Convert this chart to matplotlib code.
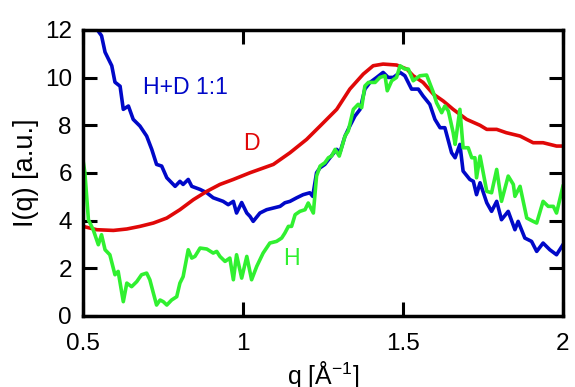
import matplotlib
matplotlib.use("Agg")
import matplotlib.pyplot as plt

plt.rcParams["font.family"] = ["Liberation Sans", "DejaVu Sans"]
plt.rcParams["mathtext.default"] = "regular"

# H+D 1:1 mixture
q_hd = [0.50, 0.52, 0.543, 0.558, 0.569, 0.590, 0.600, 0.616, 0.626, 0.642,
        0.657, 0.678, 0.699, 0.715, 0.730, 0.746, 0.762, 0.788, 0.803, 0.813,
        0.829, 0.840, 0.866, 0.887, 0.907, 0.938, 0.954, 0.970, 0.980, 0.996,
        1.012, 1.022, 1.032, 1.053, 1.074, 1.095, 1.116, 1.131, 1.147, 1.168,
        1.188, 1.209, 1.218, 1.230, 1.241, 1.256, 1.272, 1.293, 1.303, 1.319,
        1.334, 1.350, 1.366, 1.381, 1.397, 1.418, 1.438, 1.454, 1.470, 1.491,
        1.506, 1.527, 1.548, 1.563, 1.584, 1.600, 1.616, 1.631, 1.652, 1.663,
        1.678, 1.688, 1.709, 1.720, 1.730, 1.741, 1.762, 1.777, 1.793, 1.808,
        1.829, 1.850, 1.860, 1.881, 1.902, 1.918, 1.938, 1.959, 1.980, 2.0]
I_hd = [14.0, 13.0, 12.04, 11.76, 11.07, 10.5, 9.81, 9.64, 8.67, 8.81,
        8.25, 7.97, 7.55, 6.99, 6.36, 6.29, 5.80, 5.44, 5.65, 5.52,
        5.73, 5.44, 5.31, 5.17, 4.96, 4.81, 4.67, 4.81, 4.32, 4.76,
        4.32, 4.18, 3.97, 4.32, 4.46, 4.53, 4.60, 4.75, 4.81, 4.96,
        5.09, 5.17, 5.02, 6.01, 6.22, 6.36, 6.64, 6.99, 6.85, 7.55,
        7.97, 8.39, 8.67, 9.52, 9.80, 10.01, 10.22, 10.01, 10.01, 10.22,
        10.08, 9.52, 9.52, 9.23, 8.88, 8.25, 7.90, 7.90, 6.85, 6.64,
        7.20, 6.08, 5.73, 5.65, 5.09, 5.59, 4.75, 4.39, 4.81, 4.04,
        4.39, 3.62, 3.97, 3.27, 3.13, 2.71, 3.06, 2.78, 2.57, 2.99]

# D
q_d = [0.50, 0.543, 0.595, 0.637, 0.678, 0.720, 0.762, 0.803, 0.845, 0.887,
       0.928, 0.970, 1.022, 1.095, 1.147, 1.199, 1.241, 1.293, 1.334, 1.376,
       1.407, 1.438, 1.480, 1.512, 1.532, 1.563, 1.595, 1.626, 1.657, 1.699,
       1.741, 1.762, 1.793, 1.823, 1.866, 1.907, 1.938, 1.980, 2.0]
I_d = [3.76, 3.62, 3.59, 3.65, 3.76, 3.90, 4.11, 4.46, 4.88, 5.23,
       5.52, 5.73, 6.01, 6.36, 6.85, 7.41, 7.97, 8.67, 9.52, 10.15,
       10.50, 10.57, 10.53, 10.36, 10.08, 9.80, 9.31, 9.02, 8.67, 8.25,
       8.00, 7.83, 7.83, 7.69, 7.55, 7.27, 7.27, 7.13, 7.13]

# H
q_h = [0.50, 0.506, 0.517, 0.532, 0.548, 0.558, 0.569, 0.584, 0.600, 0.610,
       0.626, 0.637, 0.652, 0.668, 0.683, 0.699, 0.709, 0.720, 0.730, 0.741,
       0.751, 0.762, 0.777, 0.793, 0.803, 0.813, 0.829, 0.840, 0.850, 0.866,
       0.887, 0.907, 0.918, 0.928, 0.944, 0.959, 0.970, 0.980, 0.996, 1.012,
       1.027, 1.043, 1.063, 1.084, 1.105, 1.121, 1.131, 1.142, 1.152, 1.163,
       1.178, 1.194, 1.204, 1.220, 1.230, 1.241, 1.256, 1.267, 1.277, 1.288,
       1.301, 1.319, 1.329, 1.345, 1.360, 1.371, 1.381, 1.392, 1.413, 1.428,
       1.444, 1.451, 1.465, 1.480, 1.491, 1.506, 1.517, 1.532, 1.553, 1.574,
       1.595, 1.605, 1.621, 1.631, 1.642, 1.657, 1.663, 1.678, 1.688, 1.704,
       1.715, 1.725, 1.730, 1.741, 1.762, 1.777, 1.793, 1.808, 1.829, 1.845,
       1.850, 1.866, 1.887, 1.907, 1.918, 1.938, 1.954, 1.970, 1.980, 2.0]
I_h = [6.55, 6.01, 4.04, 3.62, 2.99, 3.41, 2.78, 2.57, 1.73, 1.87,
       0.60, 1.38, 1.23, 1.44, 1.73, 1.80, 1.52, 0.96, 0.46, 0.67,
       0.60, 0.46, 0.67, 0.81, 1.38, 1.65, 2.78, 2.43, 2.50, 2.85,
       2.81, 2.64, 2.71, 2.50, 2.29, 2.43, 1.52, 2.57, 1.59, 2.50,
       1.52, 2.08, 2.64, 3.06, 3.13, 3.27, 3.48, 3.76, 3.76, 4.25,
       4.39, 4.46, 4.74, 4.32, 5.87, 6.29, 6.43, 6.64, 6.71, 6.99,
       6.71, 7.55, 7.76, 8.67, 8.88, 8.74, 9.65, 9.80, 9.80, 10.01,
       10.08, 9.45, 9.87, 10.01, 10.50, 10.36, 10.36, 9.87, 10.08, 10.11,
       9.38, 8.95, 8.53, 8.81, 8.60, 7.69, 7.20, 8.67, 7.06, 7.06,
       6.64, 6.64, 5.80, 6.71, 5.23, 5.17, 6.15, 4.81, 5.87, 5.52,
       5.02, 5.44, 4.11, 3.97, 3.90, 4.81, 4.60, 4.60, 4.32, 5.44]

blue, red, green = "#0008c8", "#e00808", "#30f030"

fig = plt.figure(figsize=(5.75, 3.87), dpi=100)
ax = fig.add_axes([0.1443, 0.1835, 0.8347, 0.739])

ax.plot(q_hd, I_hd, color=blue, lw=2.6)
ax.plot(q_d, I_d, color=red, lw=2.6)
ax.plot(q_h, I_h, color=green, lw=2.6)

ax.text(0.819, 9.57, "H+D 1:1", color=blue, fontsize=16.6, ha="center", va="center")
ax.text(1.025, 7.24, "D", color=red, fontsize=16.6, ha="center", va="center")
ax.text(1.153, 2.43, "H", color=green, fontsize=16.6, ha="center", va="center")

ax.set_xlim(0.5, 2.0)
ax.set_ylim(0, 12)
ax.set_xticks([0.5, 1, 1.5, 2])
ax.set_xticklabels(["0.5", "1", "1.5", "2"])
ax.set_yticks(range(0, 13, 2))
ax.tick_params(direction="in", length=10, width=2.2, top=True, right=True,
               labelsize=17.5)
ax.tick_params(axis="x", pad=12)
ax.tick_params(axis="y", pad=8)
for s in ax.spines.values():
    s.set_linewidth(2.5)

ax.set_xlabel("q [Å$^{-1}$]", fontsize=18, labelpad=3)
ax.set_ylabel("I(q) [a.u.]", fontsize=19.5, labelpad=4)

fig.savefig("out.png", dpi=100)
